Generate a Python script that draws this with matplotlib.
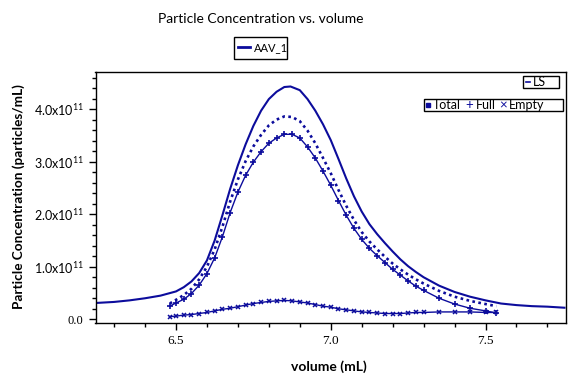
import matplotlib
matplotlib.use('Agg')
import matplotlib.pyplot as plt
from matplotlib.patches import Rectangle
from matplotlib.lines import Line2D

plt.rcParams['font.family'] = ['Lato', 'DejaVu Sans']
plt.rcParams['mathtext.fontset'] = 'custom'
plt.rcParams['mathtext.rm'] = 'Lato'
plt.rcParams['mathtext.default'] = 'regular'

blue = '#0c0c9c'

# light scattering trace (particles/mL, units of 1e11)
ls_vol = [6.24, 6.30, 6.35, 6.40, 6.45, 6.50, 6.525, 6.55, 6.575, 6.60, 6.625, 6.65, 6.675,
          6.70, 6.725, 6.75, 6.775, 6.80, 6.825, 6.85, 6.87, 6.90, 6.925, 6.95, 6.975,
          7.00, 7.025, 7.05, 7.075, 7.10, 7.125, 7.15, 7.175, 7.20, 7.225, 7.25, 7.275,
          7.30, 7.35, 7.40, 7.45, 7.50, 7.55, 7.60, 7.65, 7.70, 7.755]
ls_conc = [0.31, 0.33, 0.36, 0.40, 0.45, 0.53, 0.61, 0.72, 0.88, 1.12, 1.50, 1.98, 2.48,
           2.93, 3.33, 3.68, 3.97, 4.19, 4.33, 4.42, 4.43, 4.36, 4.19, 3.97, 3.71,
           3.41, 3.05, 2.68, 2.34, 2.05, 1.81, 1.62, 1.45, 1.29, 1.14, 1.01, 0.90,
           0.80, 0.64, 0.52, 0.43, 0.36, 0.30, 0.27, 0.25, 0.24, 0.22]

vol = [6.48, 6.50, 6.525, 6.55, 6.575, 6.60, 6.625, 6.65, 6.675, 6.70, 6.725, 6.75,
       6.775, 6.80, 6.825, 6.85, 6.875, 6.90, 6.925, 6.95, 6.975, 7.00, 7.025, 7.05,
       7.075, 7.10, 7.125, 7.15, 7.175, 7.20, 7.225, 7.25, 7.275, 7.30, 7.35, 7.40,
       7.45, 7.50, 7.535]
total = [0.30, 0.37, 0.46, 0.58, 0.76, 1.00, 1.33, 1.76, 2.24, 2.66, 3.01, 3.29,
         3.51, 3.69, 3.80, 3.86, 3.85, 3.77, 3.59, 3.35, 3.07, 2.78, 2.46, 2.16,
         1.89, 1.66, 1.48, 1.33, 1.19, 1.06, 0.95, 0.85, 0.76, 0.68, 0.54, 0.43,
         0.35, 0.29, 0.25]
full = [0.25, 0.31, 0.38, 0.49, 0.65, 0.87, 1.17, 1.57, 2.03, 2.42, 2.74, 2.99,
        3.19, 3.35, 3.45, 3.52, 3.52, 3.45, 3.28, 3.07, 2.82, 2.55, 2.26, 1.98,
        1.73, 1.52, 1.35, 1.21, 1.08, 0.95, 0.84, 0.73, 0.63, 0.55, 0.40, 0.29,
        0.21, 0.16, 0.12]
empty = [0.05, 0.06, 0.08, 0.09, 0.11, 0.13, 0.16, 0.19, 0.21, 0.24, 0.27, 0.30,
         0.32, 0.34, 0.35, 0.36, 0.35, 0.33, 0.31, 0.28, 0.25, 0.23, 0.20, 0.18,
         0.16, 0.14, 0.13, 0.12, 0.11, 0.11, 0.11, 0.12, 0.13, 0.13, 0.14, 0.14,
         0.14, 0.13, 0.13]

xticks = [6.5, 7.0, 7.5]
xticklabels = ['6.5', '7.0', '7.5']
yticks = [0, 1, 2, 3, 4]
yticklabels = ['0.0', '1.0x10$^{11}$', '2.0x10$^{11}$', '3.0x10$^{11}$', '4.0x10$^{11}$']

W, H = 577, 385


def fx(x):
    return x / W


def fy(y):
    return 1 - y / H


fig = plt.figure(figsize=(W / 100, H / 100), dpi=100)
ax = fig.add_axes([fx(95.5), fy(322.7), (566 - 95.5) / W, (322.7 - 72.3) / H])

ax.plot(ls_vol, ls_conc, color=blue, lw=1.5)
ax.plot(vol, total, color=blue, lw=1.9, ls=(0, (1, 1.3)))
ax.plot(vol, full, color=blue, lw=1.0, marker='+', ms=5, mew=1.2)
ax.plot(vol, empty, color=blue, lw=1.0, marker='x', ms=3.5, mew=1.1)

ax.set_xlim(6.24, 7.76)
ax.set_ylim(-0.065, 4.70)
ax.set_xticks(xticks)
ax.set_xticklabels(xticklabels, family='Liberation Serif', fontsize=9.5)
ax.set_xticks([6.3, 6.4, 6.6, 6.7, 6.8, 6.9, 7.1, 7.2, 7.3, 7.4, 7.6, 7.7], minor=True)
ax.set_yticks(yticks)
ax.set_yticklabels(yticklabels, fontsize=9)
ax.get_yticklabels()[0].set_family('Liberation Serif')
ax.set_yticks([v / 5 for v in range(0, 24) if v % 5], minor=True)
ax.tick_params(which='major', length=5, width=1, direction='out')
ax.tick_params(which='minor', length=3, width=1, direction='out')
for s in ax.spines.values():
    s.set_linewidth(1)

ax.set_xlabel('volume (mL)', fontweight='bold', fontsize=10)
ax.xaxis.set_label_coords(0.496, -0.15)
ax.set_ylabel('Particle Concentration (particles/mL)', fontweight='bold', fontsize=9.8)
ax.yaxis.set_label_coords(-0.15, 0.504)

fig.text(fx(261), fy(19), 'Particle Concentration vs. volume', ha='center', va='center', fontsize=10)

# top legend
fig.patches.append(Rectangle((fx(234), fy(59)), 53 / W, 22 / H, transform=fig.transFigure,
                             fill=False, ec='black', lw=1))
fig.lines.append(Line2D([fx(238), fx(250)], [fy(47), fy(47)], transform=fig.transFigure,
                        color=blue, lw=2))
fig.text(fx(254), fy(48), 'AAV_1', va='center', fontsize=8)

# LS legend
fig.patches.append(Rectangle((fx(523), fy(88)), 36 / W, 12 / H, transform=fig.transFigure,
                             fill=False, ec='black', lw=1))
fig.lines.append(Line2D([fx(526), fx(530)], [fy(81.7), fy(81.7)], transform=fig.transFigure,
                        color=blue, lw=1.2))
fig.text(fx(533), fy(82), 'LS', va='center', fontsize=9)

# total/full/empty legend
fig.patches.append(Rectangle((fx(424), fy(111)), 139 / W, 12 / H, transform=fig.transFigure,
                             fill=False, ec='black', lw=1))
fig.lines.append(Line2D([fx(428)], [fy(104.7)], transform=fig.transFigure,
                        color=blue, marker='s', ms=3, ls='none'))
fig.text(fx(433), fy(105), 'Total', va='center', fontsize=9)
fig.text(fx(465), fy(105), '+', va='center', fontsize=9.5, color=blue)
fig.text(fx(476), fy(105), 'Full', va='center', fontsize=9)
fig.text(fx(499), fy(105), '\u00d7', va='center', fontsize=9.5, color=blue)
fig.text(fx(509), fy(105), 'Empty', va='center', fontsize=9)

fig.savefig('out.png', dpi=100)
